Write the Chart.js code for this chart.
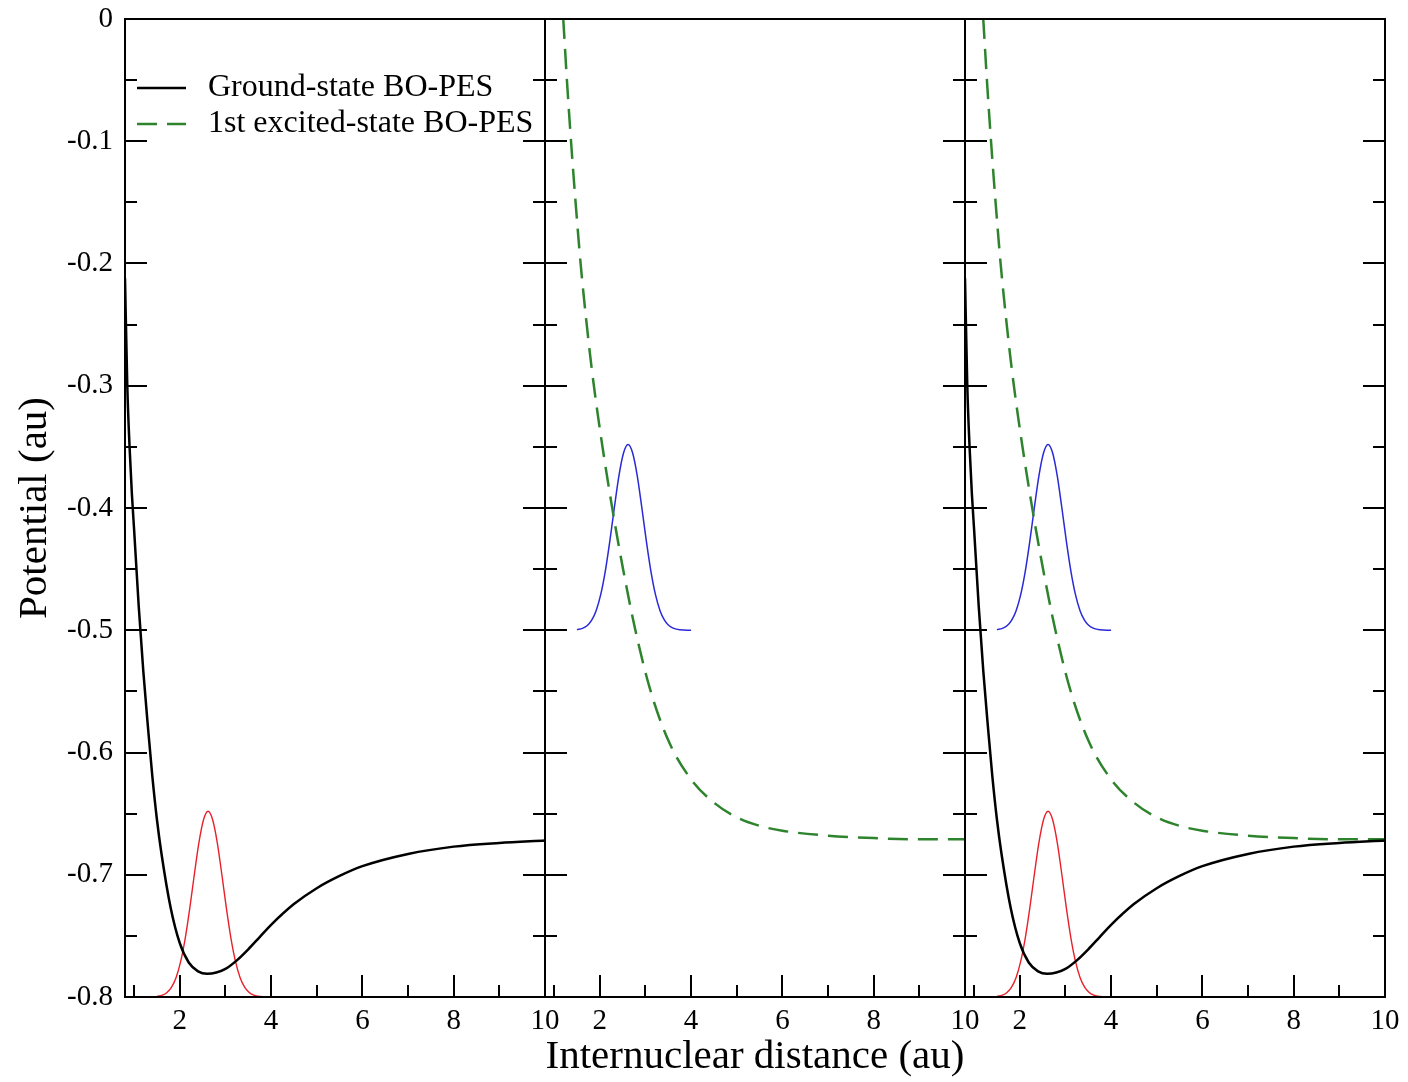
<!DOCTYPE html>
<html><head><meta charset="utf-8">
<script src="https://cdn.jsdelivr.net/npm/chart.js@4.4.1/dist/chart.umd.min.js"></script>
<style>
html,body{margin:0;padding:0;background:#fff;width:1408px;height:1082px;overflow:hidden;position:relative;}
canvas{position:absolute;top:-20px;}
</style></head><body>
<canvas id="c1" width="580" height="1102" style="left:0px"></canvas>
<canvas id="c2" width="490" height="1102" style="left:510px"></canvas>
<canvas id="c3" width="490" height="1102" style="left:930px"></canvas>
<script>
// ---- data ----
const groundX = [0.80, 0.85, 0.90, 0.95, 1.00, 1.10, 1.20, 1.30, 1.40, 1.50, 1.60, 1.80, 2.00, 2.20, 2.40, 2.60, 2.80, 3.00, 3.25, 3.50, 3.75, 4.00, 4.50, 5.00, 5.50, 6.00, 7.00, 8.00, 9.00, 10.00];
const groundY = [-0.212, -0.300, -0.350, -0.388, -0.418, -0.480, -0.533, -0.578, -0.620, -0.655, -0.683, -0.727, -0.756, -0.772, -0.779, -0.781, -0.780, -0.777, -0.770, -0.761, -0.751, -0.741, -0.724, -0.711, -0.701, -0.693, -0.683, -0.677, -0.674, -0.672];

const excitedX = [1.20, 1.28, 1.37, 1.47, 1.58, 1.70, 1.82, 1.95, 2.10, 2.25, 2.50, 2.78, 3.10, 3.50, 4.00, 4.50, 5.00, 5.50, 6.00, 7.00, 8.00, 9.00, 10.00];
const excitedY = [0.000, -0.050, -0.100, -0.150, -0.200, -0.245, -0.285, -0.322, -0.360, -0.395, -0.448, -0.500, -0.548, -0.590, -0.622, -0.641, -0.653, -0.660, -0.664, -0.668, -0.670, -0.671, -0.671];

const packetX = [1.50, 1.62, 1.72, 1.82, 1.92, 2.02, 2.12, 2.22, 2.32, 2.42, 2.52, 2.62, 2.72, 2.82, 2.92, 3.02, 3.12, 3.22, 3.32, 3.42, 3.52, 3.62, 3.75, 4.00];
const packetGroundY = [-0.7995, -0.7985, -0.7963, -0.7919, -0.7840, -0.7709, -0.7518, -0.7271, -0.6994, -0.6735, -0.6550, -0.6480, -0.6550, -0.6735, -0.6994, -0.7271, -0.7518, -0.7709, -0.7840, -0.7919, -0.7963, -0.7985, -0.7996, -0.8000];
const packetExcitedY = [-0.4995, -0.4985, -0.4963, -0.4919, -0.4840, -0.4709, -0.4518, -0.4271, -0.3994, -0.3735, -0.3550, -0.3480, -0.3550, -0.3735, -0.3994, -0.4271, -0.4518, -0.4709, -0.4840, -0.4919, -0.4963, -0.4985, -0.4996, -0.5000];

const xTicks = [2, 4, 6, 8, 10];
const xMinorTicks = [1, 3, 5, 7, 9];
const yTicks = [0, -0.1, -0.2, -0.3, -0.4, -0.5, -0.6, -0.7, -0.8];
const yMinorTicks = [-0.05, -0.15, -0.25, -0.35, -0.45, -0.55, -0.65, -0.75];
const xRange = [0.8, 10];
const yRange = [-0.8, 0];
const legendLabels = ['Ground-state BO-PES', '1st excited-state BO-PES'];
const xTitle = 'Internuclear distance (au)';
const yTitle = 'Potential (au)';

// ---- styles ----
const SERIF = "'Liberation Serif', 'Times New Roman', serif";
const C_GROUND = '#000000', C_EXC = '#2d842d', C_RED = '#e8202a', C_BLUE = '#2a2ad8';
const pts = (xs, ys) => xs.map((x, i) => ({x, y: ys[i]}));

const dsGround = () => ({label: legendLabels[0], data: pts(groundX, groundY), borderColor: C_GROUND, borderWidth: 2.5, showLine: true, pointRadius: 0});
const dsExcited = () => ({label: legendLabels[1], data: pts(excitedX, excitedY), borderColor: C_EXC, borderWidth: 2.5, borderDash: [20, 10], showLine: true, pointRadius: 0});
const dsRed = () => ({label: 'packet ground', data: pts(packetX, packetGroundY), borderColor: C_RED, borderWidth: 1.4, showLine: true, pointRadius: 0});
const dsBlue = () => ({label: 'packet excited', data: pts(packetX, packetExcitedY), borderColor: C_BLUE, borderWidth: 1.5, showLine: true, pointRadius: 0});

const framePlugin = {
  id: 'frame',
  afterDatasetsDraw(chart) {
    const {ctx, chartArea: a, scales: {x, y}} = chart;
    ctx.save();
    ctx.strokeStyle = '#000';
    ctx.lineWidth = 2;
    ctx.beginPath();
    const seg = (x1, y1, x2, y2) => { ctx.moveTo(x1, y1); ctx.lineTo(x2, y2); };
    yTicks.forEach(v => { const p = Math.round(y.getPixelForValue(v)); seg(a.left, p, a.left + 22, p); seg(a.right, p, a.right - 22, p); });
    yMinorTicks.forEach(v => { const p = Math.round(y.getPixelForValue(v)); seg(a.left, p, a.left + 12, p); seg(a.right, p, a.right - 12, p); });
    xTicks.forEach(v => { const p = Math.round(x.getPixelForValue(v)); seg(p, a.bottom, p, a.bottom - 22); });
    xMinorTicks.forEach(v => { const p = Math.round(x.getPixelForValue(v)); seg(p, a.bottom, p, a.bottom - 12); });
    ctx.stroke();
    ctx.strokeRect(a.left, a.top, a.right - a.left, a.bottom - a.top);
    ctx.restore();
  }
};

const legendPlugin = {
  id: 'boLegend',
  afterDraw(chart) {
    const {ctx, chartArea: a} = chart;
    const items = [
      {text: legendLabels[0], color: C_GROUND, dash: [], y: a.top + 69},
      {text: legendLabels[1], color: C_EXC, dash: [20, 10], y: a.top + 105}
    ];
    ctx.save();
    items.forEach(it => {
      ctx.strokeStyle = it.color;
      ctx.lineWidth = 2.5;
      ctx.setLineDash(it.dash);
      ctx.beginPath();
      ctx.moveTo(a.left + 12, it.y);
      ctx.lineTo(a.left + 61, it.y);
      ctx.stroke();
      ctx.setLineDash([]);
      ctx.fillStyle = '#000';
      ctx.font = '32px ' + SERIF;
      ctx.textAlign = 'left';
      ctx.textBaseline = 'middle';
      ctx.fillText(it.text, a.left + 83, it.y);
    });
    ctx.restore();
  }
};

function makeChart(id, datasets, o) {
  return new Chart(document.getElementById(id), {
    type: 'scatter',
    data: {datasets},
    options: {
      responsive: false,
      animation: false,
      devicePixelRatio: 1,
      layout: {padding: o.padding},
      plugins: {legend: {display: false}, tooltip: {enabled: false}},
      elements: {point: {radius: 0}, line: {cubicInterpolationMode: 'monotone'}},
      scales: {
        x: {
          type: 'linear', min: xRange[0], max: xRange[1],
          grid: {display: false, drawTicks: false}, border: {display: false},
          afterBuildTicks: s => { s.ticks = xTicks.map(v => ({value: v})); },
          afterFit: s => { s.height = 85; },
          ticks: {padding: 7, color: '#000', autoSkip: false, maxRotation: 0, font: {family: SERIF, size: 29}, callback: v => String(v)},
          title: {display: !!o.xTitle, text: xTitle, color: '#000', font: {family: SERIF, size: 41}, padding: {top: 0, bottom: 0}}
        },
        y: {
          type: 'linear', min: yRange[0], max: yRange[1], display: o.showY,
          grid: {display: false, drawTicks: false}, border: {display: false},
          afterBuildTicks: s => { s.ticks = yTicks.map(v => ({value: v})); },
          afterFit: s => { if (o.showY) s.width = 125; },
          ticks: {padding: 12, color: '#000', autoSkip: false, font: {family: SERIF, size: 29}, callback: v => (v === 0 ? '0' : v.toFixed(1))},
          title: {display: !!o.showY, text: yTitle, color: '#000', font: {family: SERIF, size: 41}, padding: {top: 11, bottom: 0}}
        }
      }
    },
    plugins: o.legend ? [framePlugin, legendPlugin] : [framePlugin]
  });
}

makeChart('c1', [dsGround(), dsRed()], {padding: {left: 0, right: 35, top: 39, bottom: 0}, showY: true, legend: true});
makeChart('c2', [dsExcited(), dsBlue()], {padding: {left: 35, right: 35, top: 39, bottom: 0}, showY: false, xTitle: true});
makeChart('c3', [dsGround(), dsExcited(), dsRed(), dsBlue()], {padding: {left: 35, right: 35, top: 39, bottom: 0}, showY: false});
</script>
</body></html>
